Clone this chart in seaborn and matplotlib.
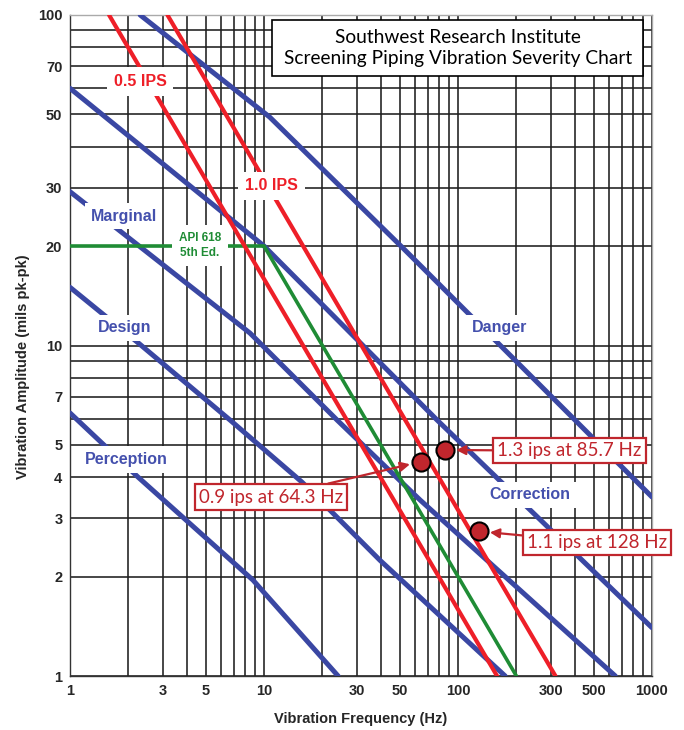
import numpy as np
import pandas as pd
import matplotlib
matplotlib.use('Agg')
import matplotlib.pyplot as plt
from matplotlib.ticker import FixedLocator, LogLocator, NullFormatter
from matplotlib.patches import Rectangle
import seaborn as sns

# 读图得到的曲线点 (频率 Hz, 振幅 mils pk-pk)
perception_f = [1, 2.24, 8.78, 24.1]
perception_d = [6.25, 4.0, 1.95, 1.0]
design_f = [1, 2.24, 6.68, 15.7, 39.6, 175]
design_d = [15.0, 10.2, 5.95, 3.86, 2.24, 1.0]
marginal_f = [1, 8.47, 23.8, 63.7, 647]
marginal_d = [29.2, 10.9, 5.95, 3.41, 1.0]
correction_f = [1, 10, 78, 1000]
correction_d = [60, 20, 5.95, 1.4]
danger_f = [2.3, 10.7, 52.1, 316, 1000]
danger_d = [100, 49.1, 19.7, 6.84, 3.48]

# 等速度线和 API 618
ips05_f = [1.59, 159]
ips05_d = [100, 1]
ips10_f = [3.18, 318]
ips10_d = [100, 1]
api_f = [1, 10, 200]
api_d = [20, 20, 1]

# 测点
meas_f = [64.3, 85.7, 128]
meas_d = [4.45, 4.83, 2.74]
meas_labels = ['0.9 ips at 64.3 Hz', '1.3 ips at 85.7 Hz', '1.1 ips at 128 Hz']

x_ticks = [1, 3, 5, 10, 30, 50, 100, 300, 500, 1000]
y_ticks = [1, 2, 3, 4, 5, 7, 10, 20, 30, 50, 70, 100]

BLUE = '#3a47a3'
BLUE_TXT = '#4450ad'
RED = '#ee1f28'
GREEN = '#1f8c35'
DARKRED = '#c0262d'

sns.set_style('white')
plt.rcParams['font.family'] = ['Liberation Sans', 'DejaVu Sans']

fig = plt.figure(figsize=(6.84, 7.3), dpi=100)
ax = fig.add_axes([70/684, 54/730, 582/684, 661/730])
ax.set_xscale('log')
ax.set_yscale('log')

# 网格
ax.xaxis.set_major_locator(FixedLocator(x_ticks))
ax.yaxis.set_major_locator(FixedLocator(y_ticks))
ax.xaxis.set_minor_locator(LogLocator(base=10, subs=np.arange(1, 10), numticks=20))
ax.yaxis.set_minor_locator(LogLocator(base=10, subs=np.arange(1, 10), numticks=20))
ax.xaxis.set_minor_formatter(NullFormatter())
ax.yaxis.set_minor_formatter(NullFormatter())
ax.grid(which='both', color='#1e1e1e', lw=1.15)
ax.set_axisbelow(True)
ax.tick_params(which='minor', length=0)
ax.tick_params(which='major', length=3.5, width=1, color='#333333', pad=2)
ax.set_xticklabels([str(v) for v in x_ticks], fontsize=10.5, fontweight='bold')
ax.set_yticklabels([str(v) for v in y_ticks], fontsize=10.5, fontweight='bold')

# 曲线
blue_lines = [(perception_f, perception_d), (design_f, design_d), (marginal_f, marginal_d),
              (correction_f, correction_d), (danger_f, danger_d)]
for f, d in blue_lines:
    sns.lineplot(x=f, y=d, ax=ax, color=BLUE, lw=3.6, estimator=None, sort=False, zorder=2)
sns.lineplot(x=api_f, y=api_d, ax=ax, color=GREEN, lw=2.6, estimator=None, sort=False, zorder=2)
sns.lineplot(x=ips05_f, y=ips05_d, ax=ax, color=RED, lw=3.0, estimator=None, sort=False, zorder=3)
sns.lineplot(x=ips10_f, y=ips10_d, ax=ax, color=RED, lw=3.0, estimator=None, sort=False, zorder=3)

ax.set_xlim(1, 1000)
ax.set_ylim(1, 100)

# 区域标签
wb = dict(fc='white', ec='none', pad=4)
for s, x, y in [('Marginal', 1.89, 24.6), ('Design', 1.91, 11.3), ('Perception', 1.94, 4.52),
                ('Danger', 164, 11.3), ('Correction', 236, 3.53)]:
    ax.text(x, y, s, color=BLUE_TXT, fontsize=11.5, fontweight='bold', ha='center', va='center',
            bbox=wb, zorder=4)
ax.text(2.3, 63, '0.5 IPS', color=RED, fontsize=11.5, fontweight='bold', ha='center', va='center',
        bbox=dict(fc='white', ec='none', pad=5), zorder=4)
ax.text(10.9, 30.4, '1.0 IPS', color=RED, fontsize=11.5, fontweight='bold', ha='center', va='center',
        bbox=dict(fc='white', ec='none', pad=5), zorder=4)
ax.text(4.68, 20.1, 'API 618\n5th Ed.', color=GREEN, fontsize=8.5, fontweight='bold', ha='center',
        va='center', linespacing=1.3, bbox=dict(fc='white', ec='none', pad=5), zorder=4)

# 测点
sns.scatterplot(x=meas_f, y=meas_d, ax=ax, s=170, color=DARKRED, edgecolor='black', linewidth=1.5,
                zorder=6, legend=False)
box_pos = [(10.9, 3.48), (376, 4.80), (520, 2.535)]
for lab, fx, dy, (bx, by) in zip(meas_labels, meas_f, meas_d, box_pos):
    ax.annotate(lab, xy=(fx, dy), xytext=(bx, by), ha='center', va='center', fontsize=13.5,
                family=['Lato', 'DejaVu Sans'], color=DARKRED, annotation_clip=False, zorder=7,
                bbox=dict(boxstyle='square,pad=0.22', fc='white', ec=DARKRED, lw=1.6),
                arrowprops=dict(arrowstyle='-|>', color=DARKRED, lw=1.6, mutation_scale=14,
                                shrinkA=0, shrinkB=8))

# 标题框
ax.add_patch(Rectangle((0.347, 0.9077), 0.6375, 0.0847, transform=ax.transAxes, fc='white',
                       ec='black', lw=1.2, zorder=7))
ax.text(0.666, 0.950, 'Southwest Research Institute\nScreening Piping Vibration Severity Chart',
        transform=ax.transAxes, ha='center', va='center', fontsize=13.8, linespacing=1.3,
        family=['Lato', 'DejaVu Sans'], color='black', zorder=8)

ax.set_xlabel('Vibration Frequency (Hz)', fontsize=10.5, fontweight='bold')
ax.set_ylabel('Vibration Amplitude (mils pk-pk)', fontsize=10.5, fontweight='bold')
ax.xaxis.set_label_coords(0.5, -0.055)
ax.yaxis.set_label_coords(-0.069, 0.4675)

for side in ['left', 'bottom']:
    ax.spines[side].set_color('#333333')
for side in ['top', 'right']:
    ax.spines[side].set_color('#aaaaaa')
for sp in ax.spines.values():
    sp.set_linewidth(1.0)
    sp.set_zorder(1)

fig.savefig('out.png', dpi=100)
